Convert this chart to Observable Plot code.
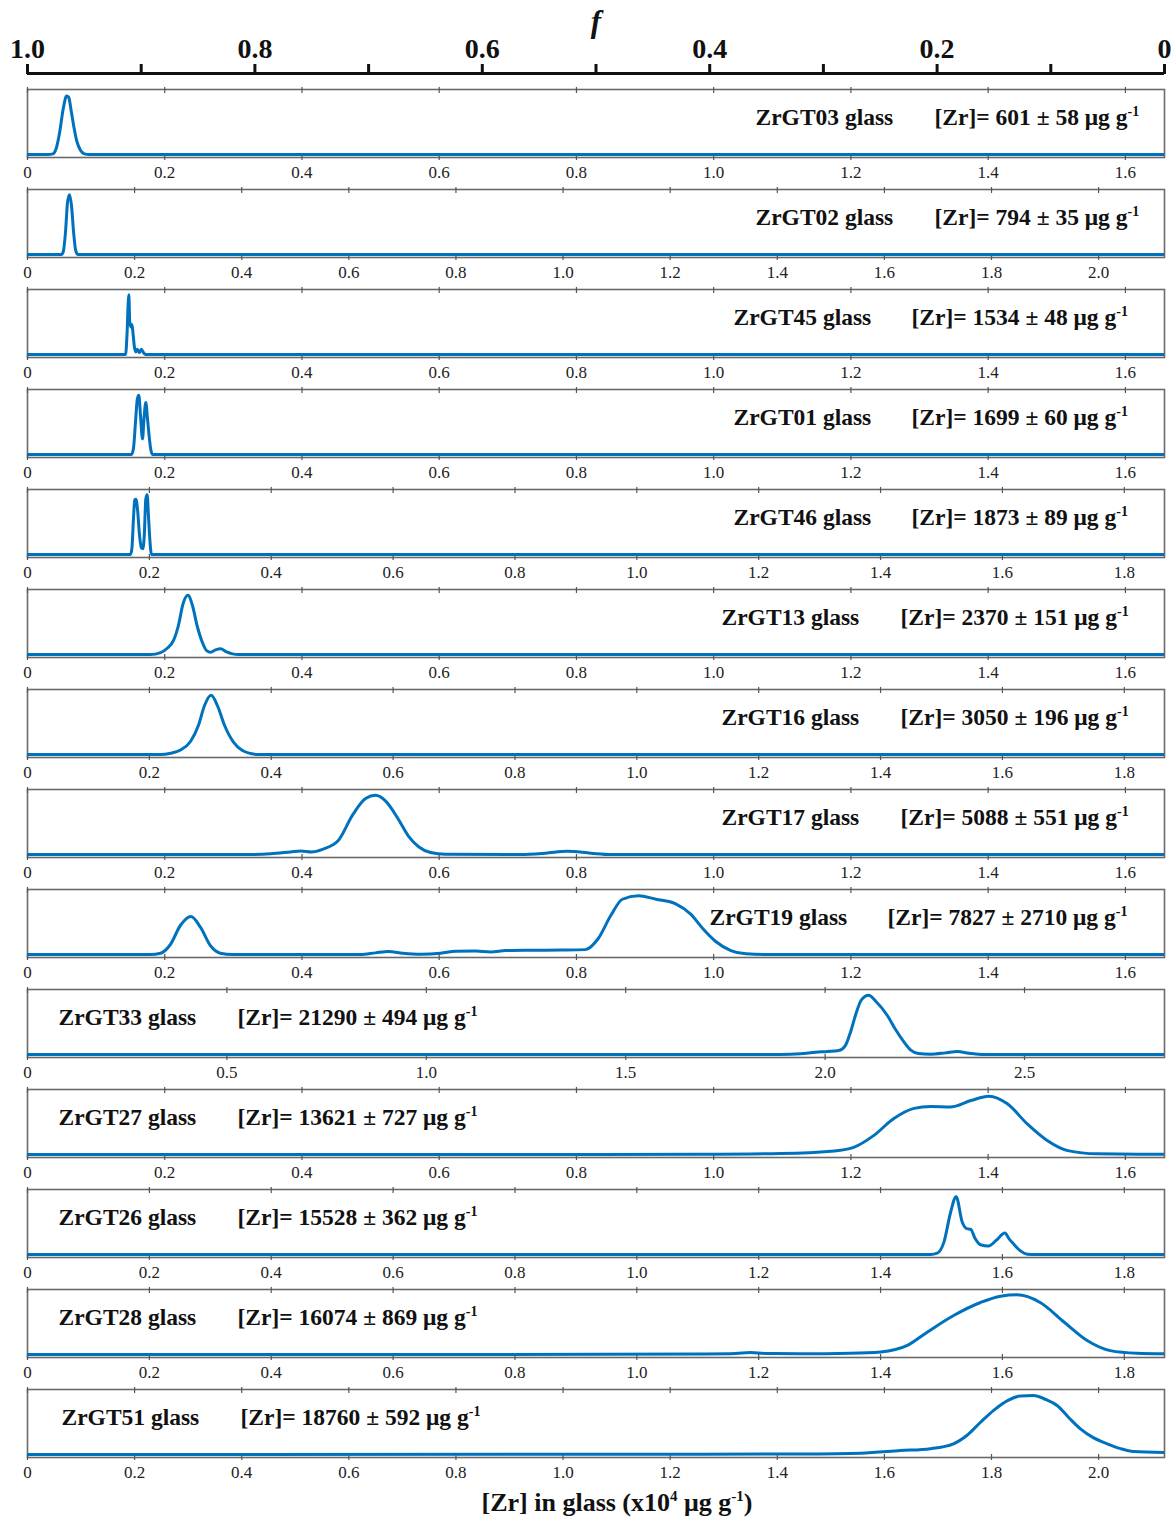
<!DOCTYPE html>
<html>
<head>
<meta charset="utf-8">
<script src="https://cdn.jsdelivr.net/npm/d3@7"></script>
<script src="https://cdn.jsdelivr.net/npm/@observablehq/plot@0.6"></script>
<style>
  body { margin: 0; background: #fff; }
  #chart { width: 1173px; }
  #chart svg { display: block; }
  #xtitle { width: 1173px; height: 36px; line-height: 36px; text-align: center; box-sizing: border-box; padding-left: 61px; padding-top: 4px;
    font: bold 26px "Liberation Serif", "Times New Roman", serif; color: #111; }
  #xtitle sup { font-size: 15px; line-height: 0; }
</style>
</head>
<body>
<div id="chart"></div>
<div id="xtitle">[Zr] in glass (x10<sup>4</sup> μg g<sup>-1</sup>)</div>
<script>
// ---------------- data ----------------
const sampleNames = ["ZrGT03","ZrGT02","ZrGT45","ZrGT01","ZrGT46","ZrGT13","ZrGT16","ZrGT17","ZrGT19","ZrGT33","ZrGT27","ZrGT26","ZrGT28","ZrGT51"];
const zrMean = [601, 794, 1534, 1699, 1873, 2370, 3050, 5088, 7827, 21290, 13621, 15528, 16074, 18760];
const zrSd   = [58, 35, 48, 60, 89, 151, 196, 551, 2710, 494, 727, 362, 869, 592];

// x-axis extent of each panel (x10^4 µg/g)
const xMax = [1.657, 2.123, 1.657, 1.657, 1.866, 1.657, 1.866, 1.657, 1.657, 2.851, 1.657, 1.866, 1.866, 2.123];

// tick sets
const ticksA = [0, 0.2, 0.4, 0.6, 0.8, 1.0, 1.2, 1.4, 1.6];
const ticksB = [0, 0.2, 0.4, 0.6, 0.8, 1.0, 1.2, 1.4, 1.6, 1.8, 2.0];
const ticksC = [0, 0.2, 0.4, 0.6, 0.8, 1.0, 1.2, 1.4, 1.6, 1.8];
const ticksD = [0, 0.5, 1.0, 1.5, 2.0, 2.5];
const panelTicks = [ticksA, ticksB, ticksA, ticksA, ticksC, ticksA, ticksC, ticksA, ticksA, ticksD, ticksA, ticksC, ticksC, ticksB];

// top axis: melt fraction f
const fMajor = [1.0, 0.8, 0.6, 0.4, 0.2, 0];
const fMinor = [0.9, 0.7, 0.5, 0.3, 0.1];

// density curves (relative density) [x, density]
const kde03 = [[0,0],[0.030,0],[0.037,0.01],[0.042,0.1],[0.047,0.35],[0.052,0.7],[0.057,0.9],[0.060,0.88],[0.064,0.65],[0.068,0.4],[0.072,0.2],[0.077,0.07],[0.083,0.01],[0.090,0],[1.657,0]];
const kde02 = [[0,0],[0.0635,0],[0.067,0.05],[0.071,0.35],[0.0747,0.8],[0.0784,0.92],[0.0822,0.75],[0.086,0.35],[0.0896,0.08],[0.094,0],[2.123,0]];
const kde45 = [[0,0],[0.1429,0],[0.145,0.3],[0.1468,0.8],[0.1477,0.92],[0.149,0.5],[0.151,0.42],[0.1523,0.46],[0.154,0.3],[0.156,0.1],[0.158,0.04],[0.160,0.08],[0.163,0.03],[0.166,0.08],[0.169,0.03],[0.172,0],[1.657,0]];
const kde01 = [[0,0],[0.1516,0],[0.1545,0.1],[0.1574,0.5],[0.160,0.85],[0.1622,0.91],[0.1647,0.6],[0.1676,0.24],[0.1698,0.55],[0.1724,0.80],[0.1749,0.55],[0.1771,0.3],[0.1793,0.1],[0.1822,0],[1.657,0]];
const kde46 = [[0,0],[0.169,0],[0.1714,0.1],[0.1739,0.55],[0.176,0.84],[0.178,0.85],[0.1805,0.7],[0.1838,0.3],[0.187,0.1],[0.1892,0.09],[0.1917,0.3],[0.1941,0.85],[0.1964,0.92],[0.1985,0.6],[0.201,0.2],[0.2035,0],[1.866,0]];
const kde13 = [[0,0],[0.179,0],[0.194,0.03],[0.204,0.1],[0.213,0.22],[0.220,0.45],[0.2267,0.78],[0.2337,0.91],[0.2405,0.75],[0.247,0.45],[0.2547,0.19],[0.261,0.06],[0.2668,0.035],[0.274,0.07],[0.2813,0.087],[0.290,0.04],[0.2988,0.01],[0.3076,0],[1.657,0]];
const kde16 = [[0,0],[0.218,0],[0.235,0.02],[0.2511,0.07],[0.2675,0.2],[0.2806,0.45],[0.2904,0.75],[0.3014,0.91],[0.3118,0.75],[0.3233,0.45],[0.338,0.19],[0.3528,0.06],[0.366,0.015],[0.379,0],[1.866,0]];
const kde17 = [[0,0],[0.325,0],[0.354,0.01],[0.3834,0.04],[0.398,0.055],[0.414,0.04],[0.43,0.08],[0.4526,0.21],[0.4745,0.62],[0.4927,0.86],[0.5073,0.91],[0.522,0.82],[0.540,0.55],[0.5554,0.28],[0.570,0.12],[0.5875,0.03],[0.609,0.005],[0.7187,0],[0.755,0.02],[0.787,0.05],[0.821,0.02],[0.85,0],[1.657,0]];
const kde19 = [[0,0],[0.179,0],[0.194,0.02],[0.208,0.15],[0.223,0.45],[0.2383,0.585],[0.252,0.42],[0.267,0.13],[0.281,0.02],[0.299,0],[0.485,0],[0.5073,0.025],[0.526,0.045],[0.547,0.02],[0.573,0.005],[0.602,0.02],[0.624,0.05],[0.653,0.055],[0.675,0.04],[0.697,0.06],[0.733,0.065],[0.777,0.068],[0.813,0.075],[0.832,0.25],[0.85,0.6],[0.867,0.85],[0.89,0.905],[0.916,0.85],[0.9446,0.78],[0.9665,0.62],[0.984,0.4],[1.003,0.2],[1.025,0.06],[1.047,0.01],[1.083,0],[1.657,0]];
const kde33 = [[0,0],[1.888,0],[1.938,0.01],[1.976,0.035],[2.006,0.046],[2.034,0.06],[2.051,0.14],[2.064,0.35],[2.076,0.6],[2.091,0.84],[2.109,0.91],[2.127,0.82],[2.156,0.6],[2.177,0.38],[2.198,0.19],[2.214,0.07],[2.234,0.015],[2.264,0.005],[2.302,0.025],[2.332,0.046],[2.36,0.02],[2.402,0],[2.851,0]];
const kde27 = [[0,0],[0.835,0],[0.981,0.003],[1.098,0.015],[1.171,0.05],[1.204,0.11],[1.233,0.29],[1.262,0.55],[1.292,0.71],[1.316,0.74],[1.345,0.73],[1.375,0.83],[1.401,0.897],[1.428,0.78],[1.457,0.47],[1.486,0.215],[1.516,0.06],[1.559,0.01],[1.618,0.005],[1.657,0.005]];
const kde26 = [[0,0],[1.482,0],[1.493,0.02],[1.504,0.19],[1.515,0.65],[1.524,0.89],[1.534,0.5],[1.541,0.4],[1.548,0.385],[1.555,0.25],[1.564,0.15],[1.577,0.13],[1.59,0.22],[1.604,0.33],[1.611,0.24],[1.618,0.165],[1.629,0.06],[1.641,0.005],[1.654,0],[1.866,0]];
const kde28 = [[0,0],[0.94,0.002],[1.104,0.008],[1.162,0.015],[1.186,0.03],[1.211,0.015],[1.268,0.012],[1.35,0.02],[1.4,0.04],[1.444,0.14],[1.476,0.34],[1.52,0.6],[1.564,0.8],[1.597,0.897],[1.624,0.918],[1.662,0.8],[1.701,0.5],[1.739,0.215],[1.777,0.06],[1.821,0.02],[1.866,0.012]];
const kde51 = [[0,0],[1.257,0.003],[1.443,0.008],[1.556,0.02],[1.63,0.06],[1.686,0.09],[1.729,0.165],[1.755,0.3],[1.78,0.5],[1.804,0.68],[1.83,0.83],[1.854,0.9],[1.879,0.908],[1.9,0.85],[1.923,0.75],[1.944,0.57],[1.966,0.395],[1.99,0.26],[2.016,0.165],[2.041,0.09],[2.065,0.045],[2.123,0.03]];
const curves = [kde03, kde02, kde45, kde01, kde46, kde13, kde16, kde17, kde19, kde33, kde27, kde26, kde28, kde51];

// ---------------- layout / style ----------------
const nameX = [755,755,733,733,733,721,721,721,709,58,58,58,58,61];
const concX = [934,934,911,911,911,900,900,900,887,237,237,237,237,240];
const SERIF = '"Liberation Serif", "Times New Roman", serif';
const BLUE = "#0072BD";
const W = 1173, ML = 27, MR = 9;
const LABEL_SIZE = 23.5;
const fmt = d => d === 0 ? "0" : d.toFixed(1);
const concText = i => `[Zr]= ${zrMean[i]} ± ${zrSd[i]} μg g`;

const chartEl = document.getElementById("chart");

// top f axis
const fAxisSvg = Plot.plot({
  width: W, height: 84, marginLeft: ML, marginRight: MR, marginTop: 73, marginBottom: 11,
  x: {domain: [1, 0]},
  y: {domain: [0, 1], axis: null},
  style: {fontFamily: SERIF, background: "white", overflow: "visible", color: "#111"},
  marks: [
    Plot.ruleY([0], {stroke: "#111", strokeWidth: 3}),
    Plot.axisX({anchor: "top", ticks: fMinor, tickSize: 10, strokeWidth: 3, fill: "none", label: null}),
    Plot.axisX({anchor: "top", ticks: fMajor, tickSize: 10, strokeWidth: 3, tickPadding: 6, tickFormat: fmt,
      fontSize: 28, fontWeight: "bold", fill: "#111", label: null}),
    Plot.text(["f"], {frameAnchor: "top", dy: -51, lineAnchor: "middle", fontSize: 31, fontWeight: "bold",
      fontStyle: "italic", fill: "#111"})
  ]
});
chartEl.appendChild(fAxisSvg);

sampleNames.forEach((name, i) => {
  const data = curves[i].map(([x, y]) => ({x, y}));
  const ticks = panelTicks[i];
  const svg = Plot.plot({
    width: W, height: 100, marginLeft: ML, marginRight: MR, marginTop: 5, marginBottom: 27,
    x: {domain: [0, xMax[i]]},
    y: {domain: [0, 1], axis: null, insetBottom: 3},
    style: {fontFamily: SERIF, background: "white", overflow: "visible", color: "#111"},
    marks: [
      Plot.frame({stroke: "#6a6a6a", strokeWidth: 1.6}),
      Plot.axisX({anchor: "top", ticks, tickSize: 6, dy: 3, stroke: "#555", strokeWidth: 1.2, fill: "none", label: null}),
      Plot.axisX({anchor: "bottom", ticks, tickSize: 6, dy: -3, stroke: "#555", strokeWidth: 1.2, fill: "none", label: null}),
      Plot.axisX({anchor: "bottom", ticks, tickSize: 0, tickPadding: 8, tickFormat: fmt, fontSize: 17, fill: "#222", label: null}),
      Plot.line(data, {x: "x", y: "y", stroke: BLUE, strokeWidth: 3, curve: "monotone-x", clip: true}),
      Plot.text([`${name} glass`], {frameAnchor: "top-left", dx: nameX[i] - ML, dy: 28, textAnchor: "start",
        lineAnchor: "middle", fontSize: LABEL_SIZE, fontWeight: "bold", fill: "#111"}),
      Plot.text([concText(i)], {frameAnchor: "top-left", dx: concX[i] - ML, dy: 28,
        textAnchor: "start", lineAnchor: "middle", fontSize: LABEL_SIZE, fontWeight: "bold", fill: "#111"})
    ]
  });
  // superscript "-1" on the unit
  svg.querySelectorAll("text").forEach(t => {
    if (t.textContent === concText(i)) {
      const ts = document.createElementNS("http://www.w3.org/2000/svg", "tspan");
      ts.setAttribute("font-size", "14");
      ts.setAttribute("dy", "-9");
      ts.textContent = "-1";
      t.appendChild(ts);
    }
  });
  chartEl.appendChild(svg);
});
</script>
</body>
</html>
